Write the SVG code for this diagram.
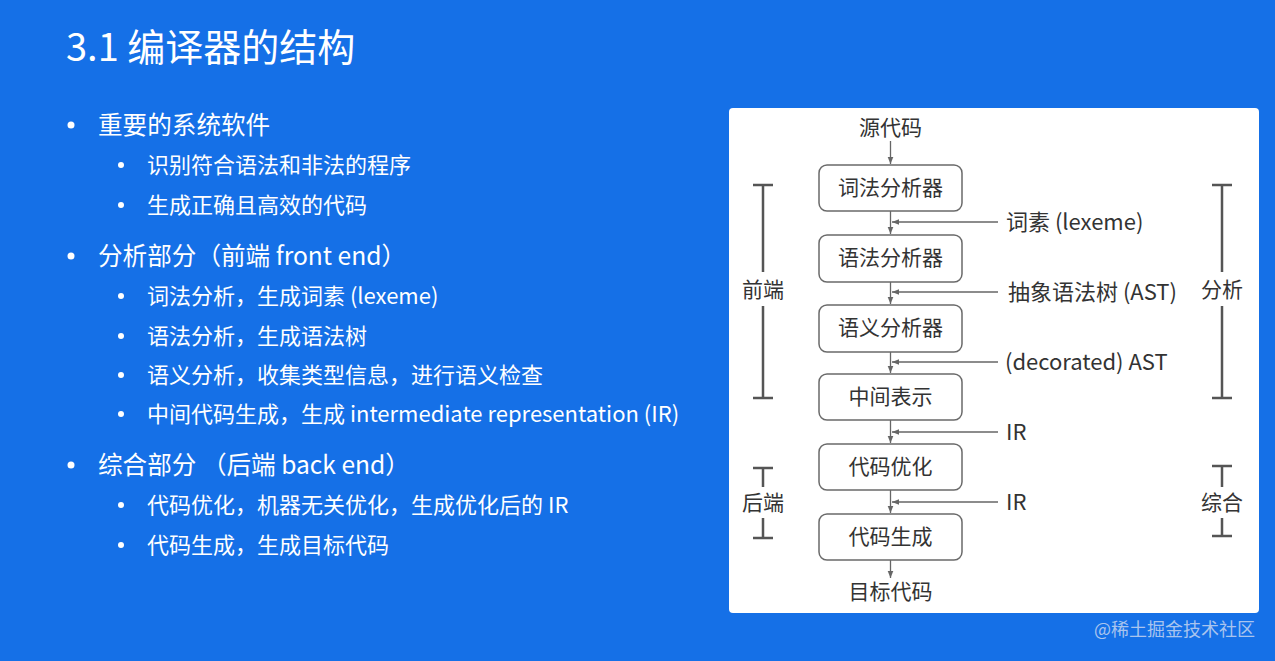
<svg xmlns="http://www.w3.org/2000/svg" width="1275" height="661" viewBox="0 0 1275 661">
<defs>
<style>
.t{font-family:"Noto Sans CJK SC","Noto Sans",sans-serif;dominant-baseline:central}
.w{fill:#ffffff}
.l1{font-size:24.6px}
.l2{font-size:22px}
.d{fill:#333333;font-size:21px}
.lb{font-size:22px}
.box{fill:#ffffff;stroke:#6a6a6a;stroke-width:1.5}
.con{stroke:#666666;stroke-width:1.3;fill:none}
.br{stroke:#555555;stroke-width:2.5;fill:none}
</style>
<marker id="ah" viewBox="0 0 10 10" refX="10" refY="5" markerWidth="7" markerHeight="7" markerUnits="userSpaceOnUse" orient="auto">
<path d="M0,1 L10,5 L0,9 z" fill="#666666"/>
</marker>
</defs>
<rect x="0" y="0" width="1275" height="661" fill="#1570e7"/>
<text class="t w" x="66" y="44" font-size="38">3.1 编译器的结构</text>
<g id="bullets" class="w">
<circle cx="71" cy="125" r="3.5"/><circle cx="71" cy="256" r="3.5"/><circle cx="71" cy="465" r="3.5"/>
<circle cx="121" cy="165" r="3"/><circle cx="121" cy="205" r="3"/><circle cx="121" cy="296" r="3"/><circle cx="121" cy="336" r="3"/>
<circle cx="121" cy="375" r="3"/><circle cx="121" cy="414" r="3"/><circle cx="121" cy="505" r="3"/><circle cx="121" cy="545" r="3"/>
</g>
<g id="text-list">
<text class="t w l1" x="98" y="123">重要的系统软件</text>
<text class="t w l2" x="147" y="163">识别符合语法和非法的程序</text>
<text class="t w l2" x="147" y="203">生成正确且高效的代码</text>
<text class="t w l1" x="98" y="254">分析部分（前端 front end）</text>
<text class="t w l2" x="147" y="294">词法分析，生成词素 (lexeme)</text>
<text class="t w l2" x="147" y="334">语法分析，生成语法树</text>
<text class="t w l2" x="147" y="373">语义分析，收集类型信息，进行语义检查</text>
<text class="t w l2" x="147" y="412">中间代码生成，生成 intermediate representation (IR)</text>
<text class="t w l1" x="98" y="463">综合部分 （后端 back end）</text>
<text class="t w l2" x="147" y="503">代码优化，机器无关优化，生成优化后的 IR</text>
<text class="t w l2" x="147" y="543">代码生成，生成目标代码</text>
</g>
<rect id="panel" x="729" y="108" width="530" height="505" rx="4" fill="#ffffff"/>
<g id="connectors">
<line class="con" x1="890.5" y1="141" x2="890.5" y2="164" marker-end="url(#ah)"/>
<line class="con" x1="890.5" y1="211" x2="890.5" y2="234" marker-end="url(#ah)"/>
<line class="con" x1="890.5" y1="282" x2="890.5" y2="304" marker-end="url(#ah)"/>
<line class="con" x1="890.5" y1="352" x2="890.5" y2="373" marker-end="url(#ah)"/>
<line class="con" x1="890.5" y1="420" x2="890.5" y2="443" marker-end="url(#ah)"/>
<line class="con" x1="890.5" y1="490" x2="890.5" y2="513" marker-end="url(#ah)"/>
<line class="con" x1="890.5" y1="560" x2="890.5" y2="578" marker-end="url(#ah)"/>
<line class="con" x1="998" y1="222" x2="892" y2="222" marker-end="url(#ah)"/>
<line class="con" x1="998" y1="292" x2="892" y2="292" marker-end="url(#ah)"/>
<line class="con" x1="998" y1="362" x2="892" y2="362" marker-end="url(#ah)"/>
<line class="con" x1="998" y1="432" x2="892" y2="432" marker-end="url(#ah)"/>
<line class="con" x1="998" y1="502" x2="892" y2="502" marker-end="url(#ah)"/>
</g>
<g id="src"><text class="t d" x="890.5" y="126" text-anchor="middle">源代码</text></g>
<g id="lexer"><rect class="box" x="819" y="165" width="143" height="46" rx="8"/><text class="t d" x="890.5" y="186" text-anchor="middle">词法分析器</text></g>
<g id="parser"><rect class="box" x="819" y="235" width="143" height="47" rx="8"/><text class="t d" x="890.5" y="256" text-anchor="middle">语法分析器</text></g>
<g id="semantic"><rect class="box" x="819" y="305" width="143" height="47" rx="8"/><text class="t d" x="890.5" y="326" text-anchor="middle">语义分析器</text></g>
<g id="ir"><rect class="box" x="819" y="374" width="143" height="46" rx="8"/><text class="t d" x="890.5" y="395" text-anchor="middle">中间表示</text></g>
<g id="opt"><rect class="box" x="819" y="444" width="143" height="46" rx="8"/><text class="t d" x="890.5" y="465" text-anchor="middle">代码优化</text></g>
<g id="gen"><rect class="box" x="819" y="514" width="143" height="46" rx="8"/><text class="t d" x="890.5" y="535" text-anchor="middle">代码生成</text></g>
<g id="dst"><text class="t d" x="890.5" y="590" text-anchor="middle">目标代码</text></g>
<g id="labels">
<text class="t d lb" x="1006" y="220">词素 (lexeme)</text>
<text class="t d lb" x="1008" y="290">抽象语法树 (AST)</text>
<text class="t d lb" x="1005" y="360">(decorated) AST</text>
<text class="t d lb" x="1006" y="430">IR</text>
<text class="t d lb" x="1006" y="500">IR</text>
</g>
<g id="front-bracket">
<path class="br" d="M753,185 H773 M763,185 V272 M763,306 V398 M753,398 H773"/>
<text class="t d" x="763" y="288" text-anchor="middle" font-size="22">前端</text>
</g>
<g id="analysis-bracket">
<path class="br" d="M1212,185 H1232 M1222,185 V272 M1222,306 V398 M1212,398 H1232"/>
<text class="t d" x="1222" y="288" text-anchor="middle" font-size="22">分析</text>
</g>
<g id="back-bracket">
<path class="br" d="M753,468 H773 M763,468 V487 M763,518 V538 M753,538 H773"/>
<text class="t d" x="763" y="501" text-anchor="middle" font-size="22">后端</text>
</g>
<g id="synthesis-bracket">
<path class="br" d="M1212,466 H1232 M1222,466 V487 M1222,518 V536 M1212,536 H1232"/>
<text class="t d" x="1222" y="501" text-anchor="middle" font-size="22">综合</text>
</g>
<text class="t" x="1255" y="628" text-anchor="end" font-size="18" fill="#a9c4ee">@稀土掘金技术社区</text>
</svg>
